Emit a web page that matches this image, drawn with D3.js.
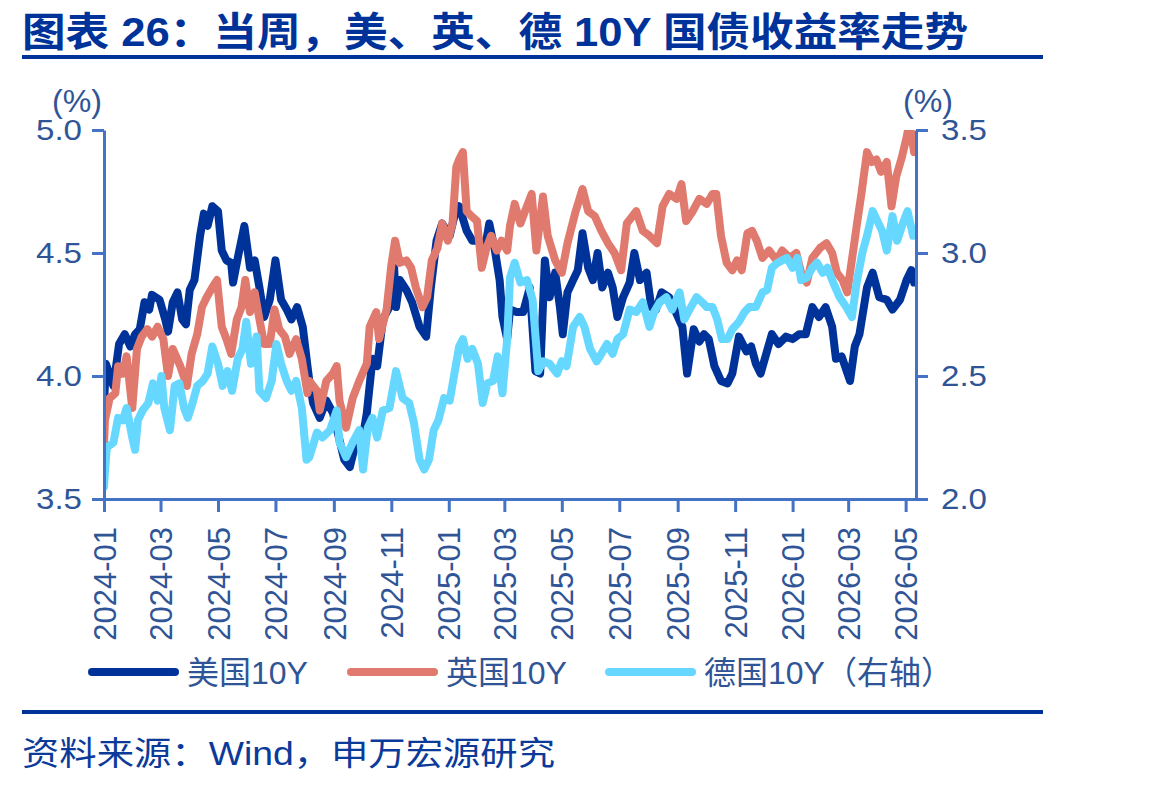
<!DOCTYPE html>
<html>
<head>
<meta charset="utf-8">
<script src="https://cdn.jsdelivr.net/npm/d3@7"></script>
<style>
  body { margin: 0; background: #fff; }
  svg text { font-family: "Liberation Sans", Arial, "Noto Sans CJK SC", sans-serif; }
</style>
</head>
<body>
<div id="chart"></div>
<script>
var tickMonths = ["2024-01", "2024-03", "2024-05", "2024-07", "2024-09", "2024-11",
    "2025-01", "2025-03", "2025-05", "2025-07", "2025-09", "2025-11",
    "2026-01", "2026-03", "2026-05"];
var leftTicks = [3.5, 4.0, 4.5, 5.0];
var rightTicks = [2.0, 2.5, 3.0, 3.5];
var seriesNames = ["美国10Y", "英国10Y", "德国10Y（右轴）"];

// 美国10Y, left axis
var usData = [
    ["2024-01-01", 3.88], ["2024-01-03", 4.05], ["2024-01-11", 3.96], ["2024-01-17", 4.13], ["2024-01-23", 4.17],
    ["2024-01-29", 4.12], ["2024-02-03", 4.17], ["2024-02-08", 4.19], ["2024-02-13", 4.30], ["2024-02-18", 4.27],
    ["2024-02-21", 4.33], ["2024-02-29", 4.31], ["2024-03-06", 4.23], ["2024-03-09", 4.18], ["2024-03-14", 4.30],
    ["2024-03-19", 4.34], ["2024-03-24", 4.23], ["2024-03-28", 4.21], ["2024-04-01", 4.35], ["2024-04-06", 4.39],
    ["2024-04-12", 4.57], ["2024-04-16", 4.66], ["2024-04-20", 4.61], ["2024-04-25", 4.69], ["2024-05-01", 4.67],
    ["2024-05-05", 4.51], ["2024-05-10", 4.47], ["2024-05-15", 4.46], ["2024-05-17", 4.38], ["2024-05-22", 4.48],
    ["2024-05-29", 4.61], ["2024-06-04", 4.44], ["2024-06-09", 4.47], ["2024-06-14", 4.36], ["2024-06-19", 4.24],
    ["2024-06-25", 4.31], ["2024-07-01", 4.47], ["2024-07-07", 4.31], ["2024-07-13", 4.27], ["2024-07-18", 4.23],
    ["2024-07-24", 4.28], ["2024-07-30", 4.20], ["2024-08-04", 4.04], ["2024-08-06", 3.98], ["2024-08-10", 3.89],
    ["2024-08-17", 3.83], ["2024-08-24", 3.90], ["2024-08-31", 3.85], ["2024-09-07", 3.74], ["2024-09-12", 3.66],
    ["2024-09-18", 3.63], ["2024-09-25", 3.74], ["2024-09-30", 3.71], ["2024-10-06", 3.85], ["2024-10-12", 4.07],
    ["2024-10-17", 4.04], ["2024-10-23", 4.23], ["2024-10-30", 4.28], ["2024-11-04", 4.44], ["2024-11-06", 4.28],
    ["2024-11-10", 4.39], ["2024-11-17", 4.35], ["2024-11-23", 4.30], ["2024-12-01", 4.20], ["2024-12-08", 4.16],
    ["2024-12-13", 4.36], ["2024-12-19", 4.55], ["2024-12-25", 4.62], ["2025-01-02", 4.57], ["2025-01-07", 4.65],
    ["2025-01-12", 4.69], ["2025-01-20", 4.59], ["2025-01-26", 4.55], ["2025-02-03", 4.55], ["2025-02-08", 4.51],
    ["2025-02-13", 4.62], ["2025-02-19", 4.51], ["2025-02-24", 4.39], ["2025-02-27", 4.24], ["2025-03-04", 4.15],
    ["2025-03-07", 4.27], ["2025-03-14", 4.26], ["2025-03-21", 4.26], ["2025-03-28", 4.36], ["2025-04-03", 4.02],
    ["2025-04-08", 4.01], ["2025-04-13", 4.47], ["2025-04-18", 4.32], ["2025-04-24", 4.42], ["2025-04-29", 4.28],
    ["2025-05-02", 4.17], ["2025-05-07", 4.34], ["2025-05-13", 4.39], ["2025-05-18", 4.43], ["2025-05-23", 4.58],
    ["2025-05-29", 4.44], ["2025-06-03", 4.39], ["2025-06-08", 4.50], ["2025-06-13", 4.36], ["2025-06-19", 4.42],
    ["2025-06-24", 4.36], ["2025-06-29", 4.24], ["2025-07-05", 4.32], ["2025-07-12", 4.38], ["2025-07-17", 4.50],
    ["2025-07-23", 4.39], ["2025-07-30", 4.42], ["2025-08-04", 4.28], ["2025-08-09", 4.27], ["2025-08-15", 4.34],
    ["2025-08-23", 4.32], ["2025-08-30", 4.26], ["2025-09-06", 4.20], ["2025-09-11", 4.01], ["2025-09-18", 4.19],
    ["2025-09-24", 4.14], ["2025-09-29", 4.17], ["2025-10-04", 4.15], ["2025-10-10", 4.04], ["2025-10-17", 3.98],
    ["2025-10-24", 3.97], ["2025-10-29", 4.01], ["2025-11-05", 4.16], ["2025-11-13", 4.10], ["2025-11-18", 4.12],
    ["2025-11-23", 4.05], ["2025-11-28", 4.01], ["2025-12-04", 4.09], ["2025-12-10", 4.17], ["2025-12-17", 4.13],
    ["2025-12-25", 4.16], ["2026-01-01", 4.15], ["2026-01-08", 4.17], ["2026-01-15", 4.17], ["2026-01-22", 4.28],
    ["2026-01-29", 4.24], ["2026-02-05", 4.28], ["2026-02-12", 4.20], ["2026-02-16", 4.07], ["2026-02-22", 4.08],
    ["2026-03-03", 3.98], ["2026-03-08", 4.12], ["2026-03-13", 4.17], ["2026-03-21", 4.36], ["2026-03-27", 4.42],
    ["2026-04-03", 4.32], ["2026-04-11", 4.31], ["2026-04-17", 4.27], ["2026-04-25", 4.31], ["2026-05-02", 4.39],
    ["2026-05-07", 4.43], ["2026-05-10", 4.38]
];

// 英国10Y, left axis
var ukData = [
    ["2024-01-01", 3.72], ["2024-01-02", 3.82], ["2024-01-07", 3.91], ["2024-01-13", 3.93], ["2024-01-16", 4.04],
    ["2024-01-21", 4.01], ["2024-01-25", 4.08], ["2024-01-31", 3.87], ["2024-02-05", 4.11], ["2024-02-10", 4.16],
    ["2024-02-16", 4.19], ["2024-02-21", 4.16], ["2024-02-27", 4.20], ["2024-03-04", 4.15], ["2024-03-09", 4.00],
    ["2024-03-14", 4.11], ["2024-03-22", 4.04], ["2024-03-29", 3.96], ["2024-04-03", 4.09], ["2024-04-09", 4.17],
    ["2024-04-14", 4.28], ["2024-04-19", 4.32], ["2024-04-25", 4.36], ["2024-04-30", 4.39], ["2024-05-05", 4.20],
    ["2024-05-10", 4.15], ["2024-05-15", 4.09], ["2024-05-21", 4.23], ["2024-05-26", 4.28], ["2024-05-30", 4.39],
    ["2024-06-04", 4.26], ["2024-06-09", 4.34], ["2024-06-14", 4.23], ["2024-06-19", 4.13], ["2024-06-25", 4.13],
    ["2024-06-30", 4.27], ["2024-07-05", 4.19], ["2024-07-11", 4.16], ["2024-07-16", 4.09], ["2024-07-23", 4.15],
    ["2024-07-29", 4.07], ["2024-08-04", 3.93], ["2024-08-06", 3.98], ["2024-08-14", 3.94], ["2024-08-17", 3.86],
    ["2024-08-24", 3.98], ["2024-08-31", 4.01], ["2024-09-04", 4.04], ["2024-09-07", 3.90], ["2024-09-14", 3.79],
    ["2024-09-21", 3.91], ["2024-09-28", 3.98], ["2024-10-06", 4.05], ["2024-10-09", 4.20], ["2024-10-16", 4.26],
    ["2024-10-19", 4.15], ["2024-10-27", 4.27], ["2024-11-01", 4.45], ["2024-11-05", 4.55], ["2024-11-10", 4.46],
    ["2024-11-17", 4.47], ["2024-11-22", 4.44], ["2024-11-27", 4.36], ["2024-12-04", 4.28], ["2024-12-09", 4.32],
    ["2024-12-14", 4.47], ["2024-12-20", 4.52], ["2024-12-25", 4.62], ["2024-12-31", 4.55], ["2025-01-05", 4.62],
    ["2025-01-09", 4.85], ["2025-01-12", 4.88], ["2025-01-16", 4.91], ["2025-01-20", 4.67], ["2025-01-25", 4.65],
    ["2025-01-31", 4.63], ["2025-02-05", 4.44], ["2025-02-10", 4.52], ["2025-02-15", 4.57], ["2025-02-21", 4.51],
    ["2025-02-26", 4.55], ["2025-03-04", 4.51], ["2025-03-07", 4.61], ["2025-03-12", 4.70], ["2025-03-18", 4.62],
    ["2025-03-23", 4.67], ["2025-03-30", 4.74], ["2025-04-04", 4.51], ["2025-04-11", 4.73], ["2025-04-16", 4.57],
    ["2025-04-24", 4.47], ["2025-05-01", 4.42], ["2025-05-07", 4.54], ["2025-05-15", 4.66], ["2025-05-23", 4.76],
    ["2025-05-29", 4.67], ["2025-06-05", 4.65], ["2025-06-12", 4.59], ["2025-06-19", 4.54], ["2025-06-26", 4.50],
    ["2025-07-03", 4.43], ["2025-07-09", 4.62], ["2025-07-15", 4.65], ["2025-07-19", 4.67], ["2025-07-26", 4.59],
    ["2025-08-02", 4.57], ["2025-08-10", 4.54], ["2025-08-16", 4.69], ["2025-08-23", 4.74], ["2025-08-31", 4.72],
    ["2025-09-05", 4.78], ["2025-09-10", 4.63], ["2025-09-17", 4.67], ["2025-09-24", 4.72], ["2025-10-02", 4.70],
    ["2025-10-08", 4.74], ["2025-10-12", 4.74], ["2025-10-17", 4.57], ["2025-10-23", 4.46], ["2025-10-29", 4.43],
    ["2025-11-03", 4.47], ["2025-11-08", 4.43], ["2025-11-14", 4.58], ["2025-11-19", 4.59], ["2025-11-24", 4.55],
    ["2025-11-30", 4.48], ["2025-12-07", 4.51], ["2025-12-15", 4.47], ["2025-12-21", 4.51], ["2025-12-29", 4.48],
    ["2026-01-05", 4.50], ["2026-01-10", 4.42], ["2026-01-16", 4.38], ["2026-01-22", 4.48], ["2026-01-30", 4.52],
    ["2026-02-06", 4.54], ["2026-02-12", 4.50], ["2026-02-17", 4.42], ["2026-02-23", 4.39], ["2026-02-28", 4.34],
    ["2026-03-06", 4.50], ["2026-03-10", 4.61], ["2026-03-15", 4.74], ["2026-03-21", 4.91], ["2026-03-26", 4.87],
    ["2026-03-31", 4.88], ["2026-04-05", 4.83], ["2026-04-11", 4.87], ["2026-04-16", 4.69], ["2026-04-21", 4.81],
    ["2026-04-27", 4.89], ["2026-05-02", 4.97], ["2026-05-05", 5.03], ["2026-05-10", 4.91]
];

// 德国10Y, right axis
var deData = [
    ["2024-01-01", 2.05], ["2024-01-02", 2.11], ["2024-01-04", 2.21], ["2024-01-11", 2.23], ["2024-01-16", 2.33],
    ["2024-01-21", 2.32], ["2024-01-25", 2.37], ["2024-01-31", 2.25], ["2024-02-03", 2.20], ["2024-02-06", 2.32],
    ["2024-02-11", 2.36], ["2024-02-17", 2.39], ["2024-02-22", 2.47], ["2024-02-27", 2.40], ["2024-03-02", 2.50],
    ["2024-03-05", 2.37], ["2024-03-11", 2.28], ["2024-03-16", 2.46], ["2024-03-21", 2.47], ["2024-03-26", 2.37],
    ["2024-03-30", 2.33], ["2024-04-04", 2.39], ["2024-04-09", 2.46], ["2024-04-15", 2.48], ["2024-04-20", 2.51],
    ["2024-04-25", 2.62], ["2024-05-01", 2.55], ["2024-05-06", 2.46], ["2024-05-11", 2.52], ["2024-05-16", 2.44],
    ["2024-05-22", 2.57], ["2024-05-27", 2.61], ["2024-05-31", 2.72], ["2024-06-05", 2.55], ["2024-06-11", 2.66],
    ["2024-06-14", 2.44], ["2024-06-21", 2.41], ["2024-06-27", 2.48], ["2024-07-02", 2.63], ["2024-07-07", 2.55],
    ["2024-07-13", 2.48], ["2024-07-18", 2.44], ["2024-07-23", 2.48], ["2024-07-29", 2.37], ["2024-08-03", 2.16],
    ["2024-08-06", 2.17], ["2024-08-14", 2.27], ["2024-08-20", 2.25], ["2024-08-28", 2.28], ["2024-09-04", 2.36],
    ["2024-09-07", 2.23], ["2024-09-14", 2.17], ["2024-09-21", 2.23], ["2024-09-28", 2.28], ["2024-10-02", 2.12],
    ["2024-10-07", 2.29], ["2024-10-12", 2.33], ["2024-10-17", 2.25], ["2024-10-23", 2.36], ["2024-10-30", 2.37],
    ["2024-11-06", 2.52], ["2024-11-13", 2.41], ["2024-11-20", 2.39], ["2024-11-25", 2.31], ["2024-12-01", 2.16],
    ["2024-12-06", 2.12], ["2024-12-11", 2.16], ["2024-12-16", 2.28], ["2024-12-21", 2.32], ["2024-12-27", 2.41],
    ["2025-01-02", 2.40], ["2025-01-07", 2.51], ["2025-01-12", 2.62], ["2025-01-16", 2.65], ["2025-01-21", 2.57],
    ["2025-01-26", 2.61], ["2025-02-01", 2.55], ["2025-02-06", 2.39], ["2025-02-11", 2.47], ["2025-02-17", 2.48],
    ["2025-02-22", 2.58], ["2025-02-27", 2.43], ["2025-03-04", 2.65], ["2025-03-07", 2.90], ["2025-03-12", 2.96],
    ["2025-03-18", 2.88], ["2025-03-25", 2.89], ["2025-03-31", 2.81], ["2025-04-06", 2.52], ["2025-04-11", 2.56],
    ["2025-04-18", 2.55], ["2025-04-26", 2.51], ["2025-05-01", 2.56], ["2025-05-06", 2.54], ["2025-05-13", 2.70],
    ["2025-05-20", 2.74], ["2025-05-25", 2.70], ["2025-05-31", 2.61], ["2025-06-07", 2.56], ["2025-06-12", 2.59],
    ["2025-06-18", 2.63], ["2025-06-24", 2.59], ["2025-06-29", 2.65], ["2025-07-05", 2.67], ["2025-07-12", 2.77],
    ["2025-07-19", 2.76], ["2025-07-26", 2.80], ["2025-08-02", 2.70], ["2025-08-07", 2.76], ["2025-08-13", 2.80],
    ["2025-08-20", 2.82], ["2025-08-26", 2.77], ["2025-09-03", 2.84], ["2025-09-08", 2.73], ["2025-09-15", 2.78],
    ["2025-09-21", 2.82], ["2025-09-27", 2.80], ["2025-10-02", 2.78], ["2025-10-08", 2.78], ["2025-10-13", 2.73],
    ["2025-10-18", 2.65], ["2025-10-24", 2.65], ["2025-10-29", 2.69], ["2025-11-05", 2.72], ["2025-11-11", 2.76],
    ["2025-11-16", 2.78], ["2025-11-23", 2.78], ["2025-11-30", 2.84], ["2025-12-05", 2.85], ["2025-12-10", 2.94],
    ["2025-12-16", 2.96], ["2025-12-21", 2.97], ["2025-12-26", 2.98], ["2026-01-01", 2.94], ["2026-01-06", 2.98],
    ["2026-01-10", 2.89], ["2026-01-16", 2.90], ["2026-01-22", 2.94], ["2026-01-27", 2.96], ["2026-02-02", 2.92],
    ["2026-02-07", 2.94], ["2026-02-12", 2.89], ["2026-02-20", 2.82], ["2026-02-27", 2.78], ["2026-03-05", 2.74],
    ["2026-03-10", 2.88], ["2026-03-16", 3.00], ["2026-03-21", 3.07], ["2026-03-27", 3.17], ["2026-04-01", 3.13],
    ["2026-04-06", 3.09], ["2026-04-11", 3.01], ["2026-04-17", 3.15], ["2026-04-22", 3.05], ["2026-04-28", 3.12],
    ["2026-05-03", 3.17], ["2026-05-09", 3.07]
];

var colors = ["#003399", "#E07A6E", "#66D8FF"];
var axisColor = "#4472C4";
var labelColor = "#2F5597";

var W = 1174, H = 787;
var plotLeft = 104, plotRight = 916, plotTop = 130, plotBottom = 499;

var parseDay = d3.timeParse("%Y-%m-%d");
var parseMonth = d3.timeParse("%Y-%m");

var svg = d3.select("#chart").append("svg")
    .attr("width", W)
    .attr("height", H);

var x = d3.scaleTime()
    .domain([parseDay("2024-01-01"), parseDay("2026-05-12")])
    .range([plotLeft, plotRight]);
var yL = d3.scaleLinear().domain([3.5, 5.0]).range([plotBottom, plotTop]);
var yR = d3.scaleLinear().domain([2.0, 3.5]).range([plotBottom, plotTop]);

// title + rules
svg.append("text")
    .attr("x", 22).attr("y", 46)
    .attr("font-size", 40).attr("font-weight", "bold")
    .attr("fill", "#003399")
    .attr("textLength", 946).attr("lengthAdjust", "spacingAndGlyphs")
    .text("图表 26：当周，美、英、德 10Y 国债收益率走势");
svg.append("rect").attr("x", 22).attr("y", 55).attr("width", 1021).attr("height", 4).attr("fill", "#003399");
svg.append("rect").attr("x", 22).attr("y", 710).attr("width", 1021).attr("height", 4).attr("fill", "#003399");

svg.append("text")
    .attr("x", 22).attr("y", 765)
    .attr("font-size", 33)
    .attr("fill", "#0B3A9A")
    .attr("textLength", 533).attr("lengthAdjust", "spacingAndGlyphs")
    .text("资料来源：Wind，申万宏源研究");

// lines
svg.append("clipPath").attr("id", "plotClip")
    .append("rect")
    .attr("x", plotLeft).attr("y", plotTop)
    .attr("width", plotRight - plotLeft).attr("height", plotBottom - plotTop);

function drawLine(data, yScale, color) {
    var line = d3.line()
        .x(function (d) { return x(parseDay(d[0])); })
        .y(function (d) { return yScale(d[1]); });
    svg.append("path")
        .datum(data)
        .attr("clip-path", "url(#plotClip)")
        .attr("fill", "none")
        .attr("stroke", color)
        .attr("stroke-width", 8)
        .attr("stroke-linejoin", "round")
        .attr("stroke-linecap", "round")
        .attr("d", line);
}
drawLine(usData, yL, colors[0]);
drawLine(ukData, yL, colors[1]);
drawLine(deData, yR, colors[2]);

// axes
function styleAxis(g) {
    g.selectAll("path, line").attr("stroke", axisColor).attr("stroke-width", 3);
    g.selectAll("text").attr("fill", labelColor).attr("font-family", null);
}

var gx = svg.append("g")
    .attr("transform", "translate(0," + plotBottom + ")")
    .call(d3.axisBottom(x)
        .tickValues(tickMonths.map(parseMonth))
        .tickFormat(d3.timeFormat("%Y-%m"))
        .tickSize(13).tickSizeOuter(0));
styleAxis(gx);
gx.selectAll("text")
    .attr("font-size", 31)
    .attr("transform", "rotate(-90)")
    .attr("text-anchor", "end")
    .attr("x", -28).attr("y", 0).attr("dy", "0.36em");

var gl = svg.append("g")
    .attr("transform", "translate(" + plotLeft + ",0)")
    .call(d3.axisLeft(yL).tickValues(leftTicks).tickFormat(d3.format(".1f"))
        .tickSize(12).tickPadding(10).tickSizeOuter(0));
styleAxis(gl);
gl.selectAll("text").attr("font-size", 29).attr("textLength", 46).attr("lengthAdjust", "spacingAndGlyphs");

var gr = svg.append("g")
    .attr("transform", "translate(" + plotRight + ",0)")
    .call(d3.axisRight(yR).tickValues(rightTicks).tickFormat(d3.format(".1f"))
        .tickSize(12).tickPadding(13).tickSizeOuter(0));
styleAxis(gr);
gr.selectAll("text").attr("font-size", 29).attr("textLength", 46).attr("lengthAdjust", "spacingAndGlyphs");

svg.append("text").attr("x", 77).attr("y", 101).attr("dy", "0.35em")
    .attr("text-anchor", "middle").attr("font-size", 31).attr("fill", labelColor)
    .attr("textLength", 50).attr("lengthAdjust", "spacingAndGlyphs").text("(%)");
svg.append("text").attr("x", 928).attr("y", 101).attr("dy", "0.35em")
    .attr("text-anchor", "middle").attr("font-size", 31).attr("fill", labelColor)
    .attr("textLength", 50).attr("lengthAdjust", "spacingAndGlyphs").text("(%)");

// legend
var legendX = [92, 351, 609];
var legend = svg.selectAll(".legend")
    .data(seriesNames)
    .enter().append("g")
    .attr("class", "legend")
    .attr("transform", function (d, i) { return "translate(" + legendX[i] + ",672)"; });
legend.append("line")
    .attr("x1", 0).attr("x2", 83)
    .attr("stroke", function (d, i) { return colors[i]; })
    .attr("stroke-width", 8)
    .attr("stroke-linecap", "round");
legend.append("text")
    .attr("x", 95).attr("y", 0).attr("dy", "0.36em")
    .attr("font-size", 32)
    .attr("fill", labelColor)
    .text(function (d) { return d; });
</script>
</body>
</html>
